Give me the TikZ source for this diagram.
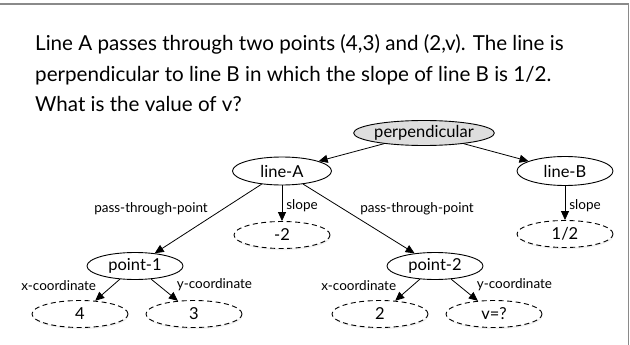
\documentclass[tikz,border=0pt]{standalone}
\usepackage{fontspec}
\setmainfont{Lato}
\usetikzlibrary{arrows.meta,shadows,shapes.geometric}
\definecolor{framegray}{HTML}{8A8A8A}
\definecolor{fillgray}{HTML}{DEDEDE}
\begin{document}
\begin{tikzpicture}[x=1pt,y=-1pt,
  base/.style={ellipse, inner sep=0pt, line width=0.9pt, font=\fontsize{16.5}{18}\selectfont,
    minimum width=96pt, minimum height=27pt},
  solidnode/.style={base, draw, fill=white},
  rootnode/.style={base, draw, fill=fillgray, minimum width=134pt, minimum height=25pt},
  valnode/.style={base, draw, dashed, dash pattern=on 5pt off 3.5pt, fill=white,
    drop shadow={opacity=0.12, shadow xshift=0.6pt, shadow yshift=-1.6pt}},
  conn/.style={-{Triangle[length=9pt,width=8pt]}, line width=0.8pt},
  elab/.style={font=\fontsize{13.5}{15}\selectfont, inner sep=1pt},
  qtext/.style={font=\fontsize{20.6}{24}\selectfont, anchor=base west, inner sep=0pt}]
\useasboundingbox (0,0) rectangle (630,345);
\draw[framegray, line width=1.6pt] (0,4) -- (628.5,4) -- (628.5,345);
\node[qtext] (q1) at (35,51) {Line A passes through two points (4,3) and (2,v). The line is};
\node[qtext] (q2) at (35,82) {perpendicular to line B in which the slope of line B is 1/2.};
\node[qtext] (q3) at (35,112) {What is the value of v?};

\node[rootnode] (perp) at (424,133) {perpendicular};
\node[solidnode, minimum width=99pt, minimum height=28pt] (lineA) at (282,171) {line-A};
\node[solidnode, minimum width=96pt, minimum height=29pt] (lineB) at (565,171) {line-B};
\node[valnode] (m2) at (282,235) {-2};
\node[valnode] (half) at (565,234) {1/2};
\node[solidnode] (p1) at (135,266) {point-1};
\node[solidnode] (p2) at (435,266) {point-2};
\node[valnode] (four) at (80,314) {4};
\node[valnode] (three) at (194,314) {3};
\node[valnode] (two) at (380,314) {2};
\node[valnode] (vq) at (494,314) {v=?};

\draw[conn] (perp) -- (lineA);
\draw[conn] (perp) -- (lineB);
\draw[conn] (lineA) -- node[elab, pos=0.5, anchor=south east, xshift=1pt, yshift=2pt] {pass-through-point} (p1);
\draw[conn] (lineA) -- node[elab, pos=0.5, anchor=west, xshift=3pt, yshift=-2pt] {slope} (m2);
\draw[conn] (lineA) -- node[elab, pos=0.5, anchor=south west, xshift=0pt, yshift=2pt] {pass-through-point} (p2);
\draw[conn] (lineB) -- node[elab, pos=0.5, anchor=west, xshift=3pt, yshift=-3pt] {slope} (half);
\draw[conn] (p1) -- node[elab, pos=0.5, anchor=south east, xshift=-10pt, yshift=-2pt] {x-coordinate} (four);
\draw[conn] (p1) -- node[elab, pos=0.5, anchor=south west, xshift=11pt, yshift=-2pt] {y-coordinate} (three);
\draw[conn] (p2) -- node[elab, pos=0.5, anchor=south east, xshift=-10pt, yshift=-2pt] {x-coordinate} (two);
\draw[conn] (p2) -- node[elab, pos=0.5, anchor=south west, xshift=11pt, yshift=-2pt] {y-coordinate} (vq);
\end{tikzpicture}
\end{document}
